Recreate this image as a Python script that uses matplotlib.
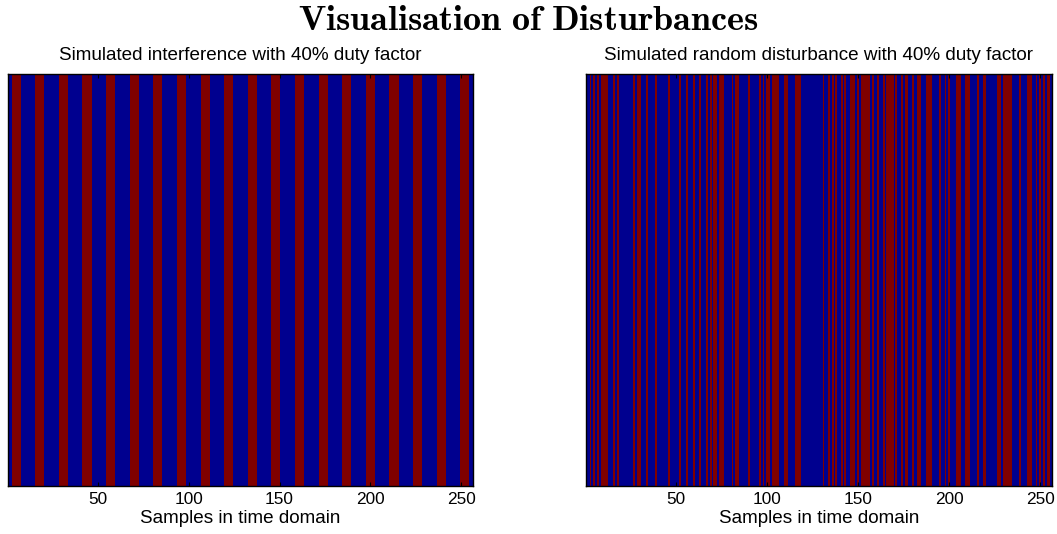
import matplotlib
matplotlib.use("Agg")
import matplotlib.pyplot as plt
import numpy as np
from matplotlib.colors import ListedColormap

n_samples = 256

# periodic interference: red bursts of 5 samples starting at these samples
periodic_starts = [3, 16, 29, 42, 55, 68, 81, 94, 107, 120,
                   133, 146, 159, 172, 185, 198, 211, 224, 237, 250]
periodic_len = 5

# random disturbance: red runs (first sample, last sample)
random_runs = [(3, 3), (5, 5), (7, 7), (9, 12), (16, 16), (18, 18), (27, 27),
               (29, 30), (34, 34), (39, 39), (46, 46), (52, 52), (56, 56),
               (60, 60), (63, 63), (67, 67), (69, 69), (71, 72), (74, 76),
               (81, 81), (83, 84), (90, 90), (96, 96), (98, 98), (100, 101),
               (103, 106), (110, 111), (116, 118), (131, 131), (134, 134),
               (136, 136), (138, 138), (141, 141), (143, 143), (146, 148),
               (150, 150), (152, 156), (158, 158), (161, 161), (164, 164),
               (166, 169), (171, 171), (174, 174), (176, 177), (180, 180),
               (183, 184), (188, 190), (195, 195), (198, 198), (200, 200),
               (204, 206), (209, 211), (216, 216), (219, 220), (227, 228),
               (230, 234), (239, 239), (243, 245), (248, 248), (250, 250),
               (252, 252), (254, 255)]

xticks = [50, 100, 150, 200, 250]

titles = ["Simulated interference with 40% duty factor",
          "Simulated random disturbance with 40% duty factor"]

periodic = np.zeros(n_samples)
for s in periodic_starts:
    periodic[s - 1:s - 1 + periodic_len] = 1

random_sig = np.zeros(n_samples)
for a, b in random_runs:
    random_sig[a - 1:b] = 1

plt.rcParams['font.family'] = ['Liberation Sans', 'DejaVu Sans']
plt.rcParams['mathtext.fontset'] = 'cm'

cmap = ListedColormap(['#00008f', '#800000'])

fig = plt.figure(figsize=(10.57, 5.34), dpi=100)
ax1 = fig.add_axes([8 / 1057, 48 / 534, 465 / 1057, 412 / 534])
ax2 = fig.add_axes([586 / 1057, 48 / 534, 466 / 1057, 412 / 534])

for ax, sig, title in zip([ax1, ax2], [periodic, random_sig], titles):
    ax.imshow(sig[np.newaxis, :], cmap=cmap, vmin=0, vmax=1, aspect='auto',
              interpolation='nearest', extent=[0.5, n_samples + 0.5, 0, 1])
    ax.set_xlim(0.5, n_samples + 0.5)
    ax.set_xticks(xticks)
    ax.set_yticks([])
    ax.tick_params(axis='x', direction='in', top=True, length=3, width=0.8,
                   labelsize=12.4, pad=4, color='black')
    for sp in ax.spines.values():
        sp.set_linewidth(1.0)
    ax.set_xlabel("Samples in time domain", fontsize=13.6, labelpad=2.5)
    ax.set_title(title, fontsize=13.6, pad=10)

fig.suptitle(r'$\mathbf{Visualisation\ of\ Disturbances}$', fontsize=26, y=0.995)

fig.savefig("out.png", dpi=100)
